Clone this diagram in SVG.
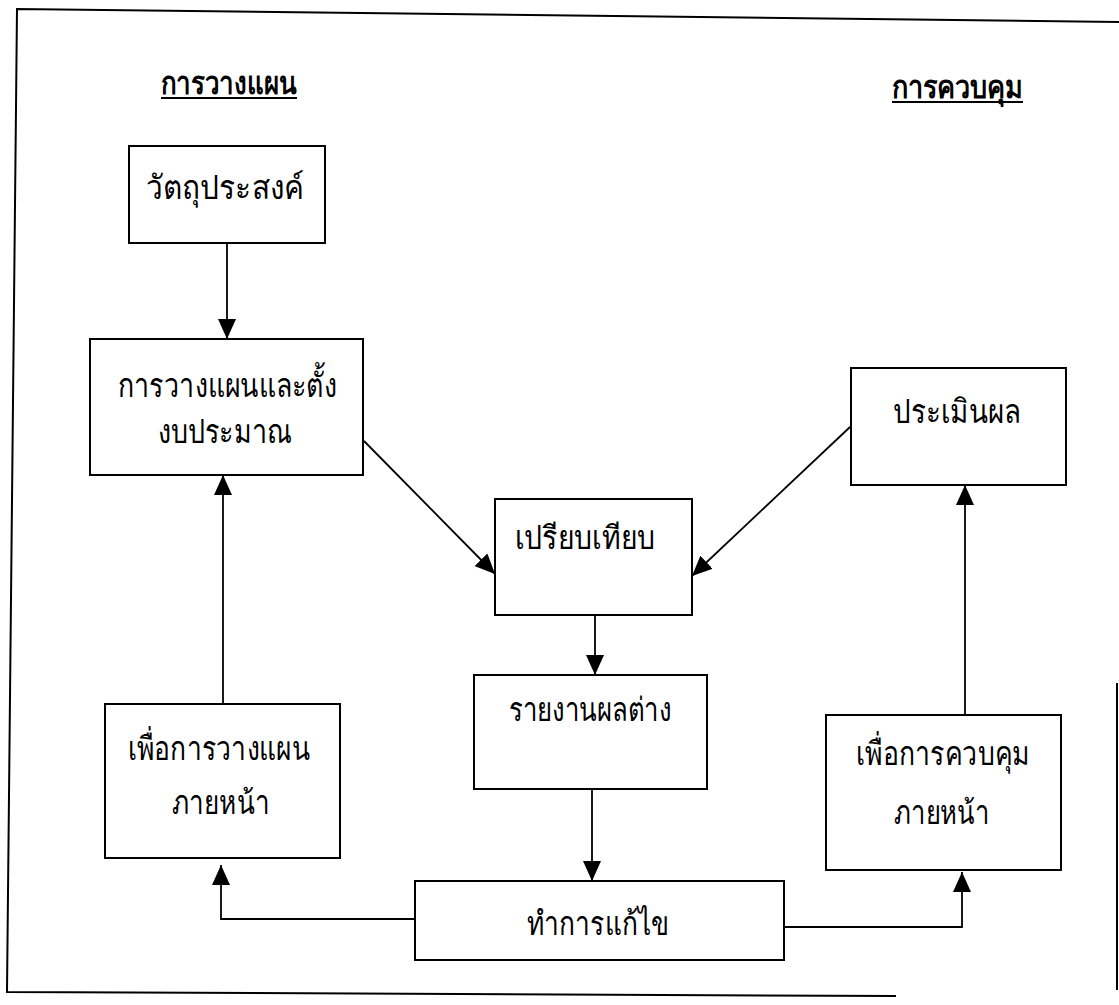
<svg xmlns="http://www.w3.org/2000/svg" width="1119" height="1005" viewBox="0 0 1119 1005">
<style>
.box{fill:#fff;stroke:#000;stroke-width:2}
.t{font-family:"DejaVu Sans",sans-serif;font-size:33px;fill:#000;text-anchor:middle}
.h{font-family:"DejaVu Sans",sans-serif;font-size:32px;font-weight:bold;fill:#000;text-anchor:middle}
.ul{stroke:#000;stroke-width:2}
.c{fill:none;stroke:#000;stroke-width:1.8}
.frame{fill:none;stroke:#000;stroke-width:2}
</style>
<defs>
<marker id="arr" viewBox="0 0 20 18" refX="20" refY="9" markerWidth="20" markerHeight="18" markerUnits="userSpaceOnUse" orient="auto" preserveAspectRatio="none">
<path d="M0,0 L20,9 L0,18 z" fill="#000"/>
</marker>
</defs>
<rect width="1119" height="1005" fill="#fff"/>
<g id="frame">
<path class="frame" d="M1119,22 L17,9 L7,992 L896,996"/>
<path class="frame" d="M1117,683 L1117,990"/>
</g>
<g id="heading-plan">
<text class="h" x="229" y="94" textLength="136" lengthAdjust="spacingAndGlyphs">การวางแผน</text>
<line class="ul" x1="161" y1="98" x2="297" y2="98"/>
</g>
<g id="heading-control">
<text class="h" x="957" y="98" textLength="131" lengthAdjust="spacingAndGlyphs">การควบคุม</text>
<line class="ul" x1="892" y1="102" x2="1023" y2="102"/>
</g>
<g id="connectors">
<path class="c" d="M227,243 L227,339" marker-end="url(#arr)"/>
<path class="c" d="M223,704 L223,475" marker-end="url(#arr)"/>
<path class="c" d="M364,441 L495,574" marker-end="url(#arr)"/>
<path class="c" d="M850,427 L692,576" marker-end="url(#arr)"/>
<path class="c" d="M595,615 L595,675" marker-end="url(#arr)"/>
<path class="c" d="M592,789 L592,881" marker-end="url(#arr)"/>
<path class="c" d="M415,919 L221,919 L221,865" marker-end="url(#arr)"/>
<path class="c" d="M784,927 L962,927 L962,872" marker-end="url(#arr)"/>
<path class="c" d="M965,715 L965,485" marker-end="url(#arr)"/>
</g>
<g id="objective">
<rect class="box" x="129" y="146" width="196" height="97"/>
<text class="t" x="225" y="199" textLength="158" lengthAdjust="spacingAndGlyphs">วัตถุประสงค์</text>
</g>
<g id="planning-budget">
<rect class="box" x="90" y="339" width="273" height="136"/>
<text class="t" x="227" y="397" textLength="219" lengthAdjust="spacingAndGlyphs">การวางแผนและตั้ง</text>
<text class="t" x="225" y="443" textLength="135" lengthAdjust="spacingAndGlyphs">งบประมาณ</text>
</g>
<g id="evaluate">
<rect class="box" x="851" y="368" width="215" height="117"/>
<text class="t" x="957" y="423" textLength="128" lengthAdjust="spacingAndGlyphs">ประเมินผล</text>
</g>
<g id="compare">
<rect class="box" x="495" y="499" width="197" height="116"/>
<text class="t" x="585" y="549" textLength="140" lengthAdjust="spacingAndGlyphs">เปรียบเทียบ</text>
</g>
<g id="variance-report">
<rect class="box" x="474" y="675" width="233" height="114"/>
<text class="t" x="590" y="721" textLength="163" lengthAdjust="spacingAndGlyphs">รายงานผลต่าง</text>
</g>
<g id="future-planning">
<rect class="box" x="105" y="704" width="235" height="154"/>
<text class="t" x="219" y="760" textLength="182" lengthAdjust="spacingAndGlyphs">เพื่อการวางแผน</text>
<text class="t" x="221" y="814" textLength="98" lengthAdjust="spacingAndGlyphs">ภายหน้า</text>
</g>
<g id="future-control">
<rect class="box" x="826" y="715" width="235" height="155"/>
<text class="t" x="943" y="765" textLength="174" lengthAdjust="spacingAndGlyphs">เพื่อการควบคุม</text>
<text class="t" x="942" y="824" textLength="96" lengthAdjust="spacingAndGlyphs">ภายหน้า</text>
</g>
<g id="correct">
<rect class="box" x="415" y="881" width="369" height="79"/>
<text class="t" x="598" y="935" textLength="143" lengthAdjust="spacingAndGlyphs">ทำการแก้ไข</text>
</g>
</svg>
